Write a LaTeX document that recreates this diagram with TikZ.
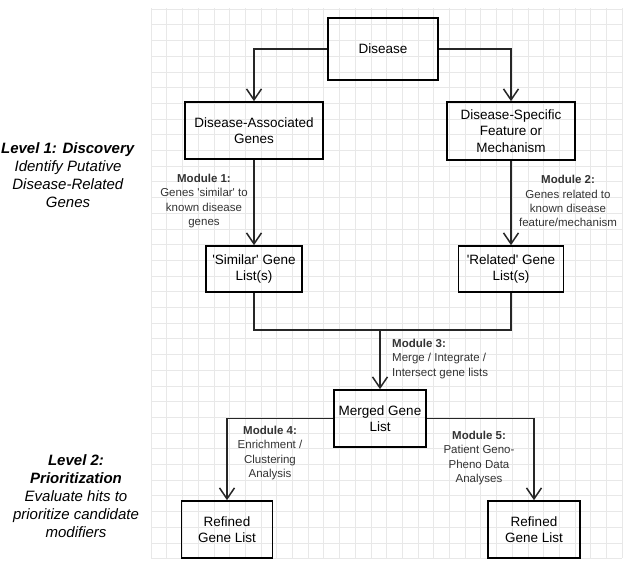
\documentclass[tikz,border=0pt]{standalone}
\usepackage{fontspec}
\setmainfont{Liberation Sans}
\usetikzlibrary{arrows.meta}

\begin{document}
\begin{tikzpicture}[x=1pt, y=-1pt,
    box/.style={draw, line width=1.6pt, align=center, inner sep=0pt, font=\fontsize{13.5}{16.5}\selectfont},
    link/.style={draw=black!85, line width=1.5pt},
    arr/.style={link, -{Straight Barb[length=11pt, width=15pt]}},
    mod/.style={align=center, text=black!80, inner sep=0pt, font=\fontsize{11.5}{14.2}\selectfont},
    lvl/.style={align=center, inner sep=0pt, font=\fontsize{15}{18}\selectfont},
    gridline/.style={draw=black!9, line width=0.6pt}]
    \useasboundingbox (0,0) rectangle (634,565);

    % grid paper
    \foreach \gx in {0,...,30}
        \draw[gridline] ({151+\gx*15.7},8) -- ({151+\gx*15.7},558);
    \foreach \gy in {0,...,35}
        \draw[gridline] (151,{9+\gy*15.7}) -- (622,{9+\gy*15.7});

    % boxes
    \node[box, minimum width=110, minimum height=62] (disease) at (383, 49) {Disease};
    \node[box, minimum width=138, minimum height=57] (assoc) at (254, 130.5) {Disease-Associated\\Genes};
    \node[box, minimum width=128, minimum height=58] (feature) at (511, 131) {Disease-Specific\\Feature or\\Mechanism};
    \node[box, minimum width=96, minimum height=46] (similar) at (254, 269) {\textquotesingle Similar\textquotesingle\ Gene\\List(s)};
    \node[box, minimum width=105, minimum height=46] (related) at (511, 269) {\textquotesingle Related\textquotesingle\ Gene\\List(s)};
    \node[box, minimum width=92, minimum height=57] (merged) at (380, 418.5) {Merged Gene\\List};
    \node[box, minimum width=91, minimum height=57] (refinedA) at (227, 529.5) {Refined\\Gene List};
    \node[box, minimum width=92, minimum height=57] (refinedB) at (534, 529.5) {Refined\\Gene List};
    \coordinate (join) at (380, 330);

    % connectors
    \draw[arr] (disease.west) -| (assoc.north);
    \draw[arr] (disease.east) -| (feature.north);
    \draw[arr] (assoc) -- (similar);
    \draw[arr] (feature) -- (related);
    \draw[link] (similar.south) |- (join) -| (related.south);
    \draw[arr] (join) -- (merged);
    \draw[arr] (merged.west) -| (refinedA.north);
    \draw[arr] (merged.east) -| (refinedB.north);

    % module labels
    \node[mod] (modA) at (204, 201) {\textbf{Module 1:}\\Genes \textquotesingle similar\textquotesingle\ to\\known disease\\genes};
    \node[mod] (modB) at (568, 201) {\textbf{Module 2:}\\Genes related to\\known disease\\feature/mechanism};
    \node[mod, align=left, anchor=west] (modC) at (392, 359) {\textbf{Module 3:}\\Merge / Integrate /\\Intersect gene lists};
    \node[mod] (modD) at (270, 453) {\textbf{Module 4:}\\Enrichment /\\Clustering\\Analysis};
    \node[mod] (modE) at (479, 458) {\textbf{Module 5:}\\Patient Geno-\\Pheno Data\\Analyses};

    % levels
    \node[lvl] (levelA) at (68, 175) {\textbf{\textit{Level 1: Discovery}}\\\textit{Identify Putative}\\\textit{Disease-Related}\\\textit{Genes}};
    \node[lvl] (levelB) at (76, 496) {\textbf{\textit{Level 2:}}\\\textbf{\textit{Prioritization}}\\\textit{Evaluate hits to}\\\textit{prioritize candidate}\\\textit{modifiers}};
\end{tikzpicture}
\end{document}
